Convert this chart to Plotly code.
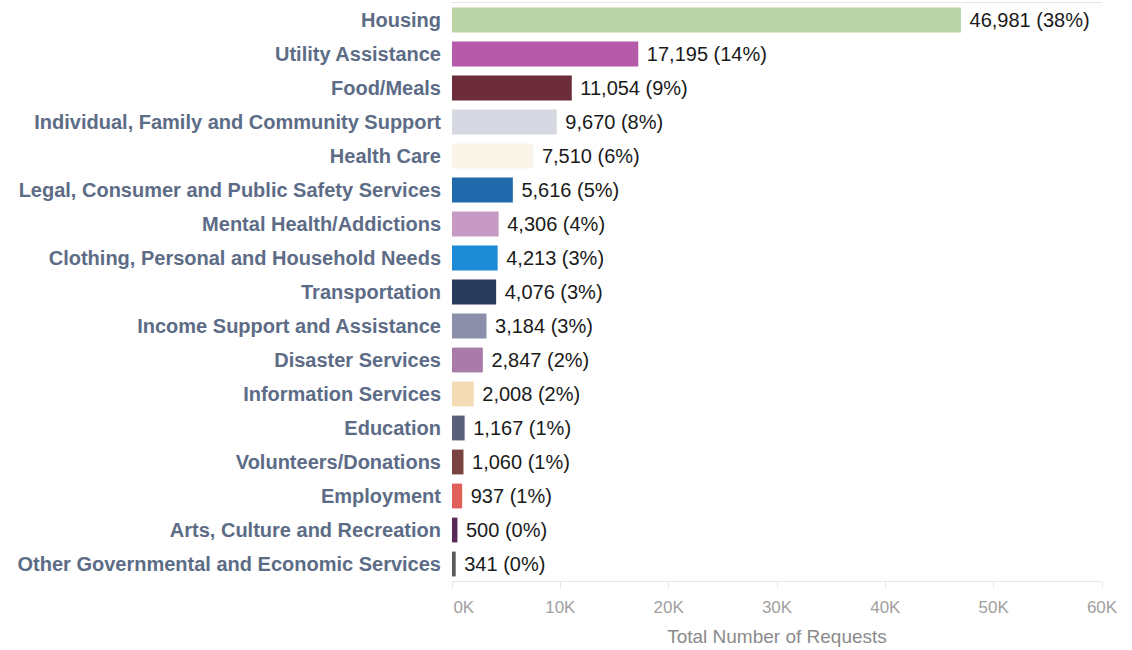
import plotly.graph_objects as go

# Service request categories, largest first
categories = [
    "Housing", "Utility Assistance", "Food/Meals",
    "Individual, Family and Community Support", "Health Care",
    "Legal, Consumer and Public Safety Services", "Mental Health/Addictions",
    "Clothing, Personal and Household Needs", "Transportation",
    "Income Support and Assistance", "Disaster Services",
    "Information Services", "Education", "Volunteers/Donations",
    "Employment", "Arts, Culture and Recreation",
    "Other Governmental and Economic Services",
]
requests = [46981, 17195, 11054, 9670, 7510, 5616, 4306, 4213, 4076,
            3184, 2847, 2008, 1167, 1060, 937, 500, 341]
bar_colors = [
    "#bcd5a8", "#b55ba9", "#6d2c3a", "#d6d9e1", "#fbf4e8", "#2069ab",
    "#c79ac4", "#1d8ad6", "#283b5b", "#8b8fa9", "#a97ba9", "#f4dbb5",
    "#5a6079", "#7b4242", "#e05f58", "#5b2a5b", "#5a5a5a",
]
x_ticks = [0, 10000, 20000, 30000, 40000, 50000, 60000]
x_tick_labels = ["&nbsp;&nbsp;&nbsp;&nbsp;&nbsp;0K", "10K", "20K", "30K",
                 "40K", "50K", "60K"]

total = sum(requests)
labels = [f" {v:,} ({round(100 * v / total)}%)" for v in requests]

fig = go.Figure(go.Bar(
    x=requests,
    y=categories,
    orientation="h",
    marker=dict(color=bar_colors, line=dict(width=0)),
    text=labels,
    textposition="outside",
    cliponaxis=False,
    textfont=dict(family="Liberation Sans, Arial", size=20, color="#1a1a1a"),
))

fig.update_layout(
    width=1132, height=650,
    margin=dict(l=452, r=30, t=3, b=69),
    paper_bgcolor="white", plot_bgcolor="white",
    bargap=0.27,
    showlegend=False,
    uniformtext=dict(minsize=20, mode="show"),
)
fig.update_yaxes(
    autorange="reversed",
    showgrid=False, zeroline=False,
    ticks="", ticklabelstandoff=10,
    tickfont=dict(family="Liberation Sans, Arial", size=20, color="#5d6c86",
                  weight="bold"),
    showline=False,
)
fig.update_xaxes(
    range=[0, 60000],
    tickvals=x_ticks, ticktext=x_tick_labels,
    showgrid=False, zeroline=False,
    showline=True, linecolor="#e6e6e6", linewidth=1, mirror=True,
    ticks="outside", ticklen=6, tickcolor="#e6e6e6",
    ticklabelstandoff=5,
    tickfont=dict(family="Liberation Sans Narrow, Liberation Sans, Arial",
                  size=17, color="#a0a0a0"),
    title=dict(text="Total Number of Requests", standoff=13,
               font=dict(family="Liberation Sans, Arial",
                         size=19, color="#8a8a8a")),
)

fig.write_html("out.html")
